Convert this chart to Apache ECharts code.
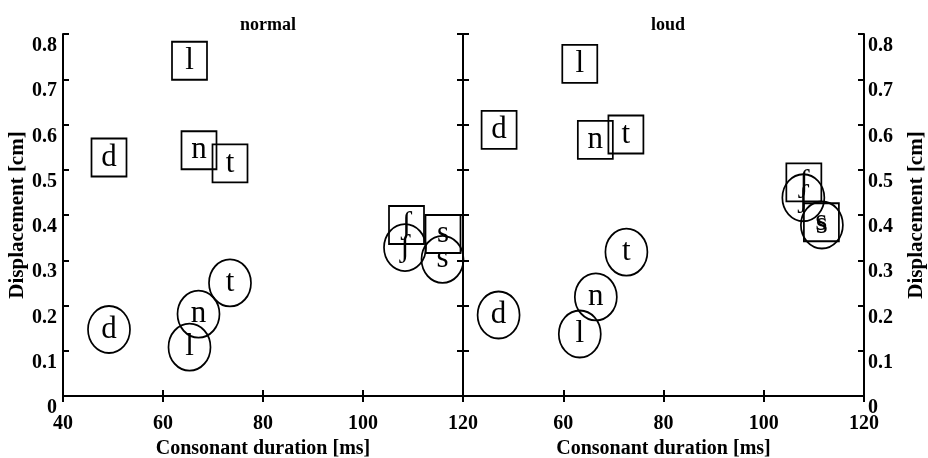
<!DOCTYPE html>
<html>
<head>
<meta charset="utf-8">
<script src="https://cdn.jsdelivr.net/npm/echarts@6/dist/echarts.min.js"></script>
<style>
html,body{margin:0;padding:0;background:#fff;}
#chart{width:928px;height:458px;}
</style>
</head>
<body>
<div id="chart"></div>
<script>
// ---- data ----
const panelTitles = ['normal', 'loud'];
const phonemes = ['d', 'l', 'n', 't', 'ʃ', 's'];
const normalSquareX = [49.2, 65.3, 67.2, 73.4, 108.7, 116.0];
const normalSquareY = [0.527, 0.741, 0.543, 0.514, 0.378, 0.358];
const normalCircleX = [49.2, 65.3, 67.1, 73.4, 108.4, 115.9];
const normalCircleY = [0.147, 0.108, 0.181, 0.250, 0.328, 0.302];
const loudSquareX = [47.2, 63.3, 66.4, 72.5, 108.0, 111.5];
const loudSquareY = [0.588, 0.734, 0.566, 0.578, 0.472, 0.384];
const loudCircleX = [47.1, 63.3, 66.5, 72.6, 107.9, 111.6];
const loudCircleY = [0.179, 0.137, 0.219, 0.318, 0.438, 0.378];
const xMin = 40, xMax = 120, xStep = 20;
const yMin = 0, yMax = 0.8, yStep = 0.1;
const xName = 'Consonant duration [ms]';
const yName = 'Displacement [cm]';

// ---- build ----
const FONT = "'Liberation Serif', 'DejaVu Serif', serif";
const ELLIPSE = 'path://M0,50 A50,50 0 1,1 100,50 A50,50 0 1,1 0,50 Z';

function pts(xs, ys) { return xs.map((x, i) => [x, ys[i], phonemes[i]]); }

const axisLine = { show: true, lineStyle: { color: '#000', width: 2 } };
const axisTick = { show: true, inside: true, length: 6, lineStyle: { color: '#000', width: 2 } };

function xAxes(gi, hideMinLabel) {
  return [
    {
      gridIndex: gi, type: 'value', position: 'bottom', min: xMin, max: xMax, interval: xStep,
      axisLine, axisTick, splitLine: { show: false },
      axisLabel: {
        show: true, margin: 18, color: '#000', fontFamily: FONT, fontWeight: 'bold', fontSize: 20,
        showMinLabel: !hideMinLabel
      },
      name: xName, nameLocation: 'middle', nameGap: 43,
      nameTextStyle: { color: '#000', fontFamily: FONT, fontWeight: 'bold', fontSize: 20 }
    },
    {
      gridIndex: gi, type: 'value', position: 'top', min: xMin, max: xMax, interval: xStep,
      axisLine, axisTick, splitLine: { show: false }, axisLabel: { show: false }
    }
  ];
}

function yAxes(gi, labelSide) {
  const labelled = {
    gridIndex: gi, type: 'value', position: labelSide, min: yMin, max: yMax, interval: yStep,
    axisLine, axisTick, splitLine: { show: false },
    axisLabel: {
      show: true, margin: labelSide === 'left' ? 6 : 4, color: '#000', fontFamily: FONT,
      fontWeight: 'bold', fontSize: 20, verticalAlign: 'top', padding: [2, 0, 0, 0],
      formatter: v => (Math.abs(v) < 1e-9 ? '0' : v.toFixed(1))
    },
    name: yName, nameLocation: 'middle', nameRotate: 90,
    nameGap: labelSide === 'left' ? 27 : 42,
    nameTextStyle: { color: '#000', fontFamily: FONT, fontWeight: 'bold', fontSize: 21 }
  };
  const plain = {
    gridIndex: gi, type: 'value', position: labelSide === 'left' ? 'right' : 'left',
    min: yMin, max: yMax, interval: yStep,
    axisLine, axisTick, splitLine: { show: false }, axisLabel: { show: false }
  };
  return [labelled, plain];
}

function markerSeries(data, xi, yi, kind) {
  return {
    type: 'scatter', xAxisIndex: xi, yAxisIndex: yi, data,
    symbol: kind === 'square' ? 'rect' : ELLIPSE,
    symbolSize: kind === 'square' ? [35, 38] : [42, 47],
    symbolKeepAspect: false,
    clip: false,
    itemStyle: { color: 'rgba(0,0,0,0)', borderColor: '#000', borderWidth: 1.8, opacity: 1 },
    label: {
      show: true, position: 'inside', formatter: p => p.data[2],
      color: '#000', fontFamily: FONT, fontSize: 31, fontWeight: 'normal'
    },
    emphasis: { disabled: true },
    silent: true
  };
}

const option = {
  animation: false,
  backgroundColor: '#fff',
  title: [
    { text: panelTitles[0], left: 263, top: 11, textAlign: 'center',
      textStyle: { color: '#000', fontFamily: FONT, fontWeight: 'bold', fontSize: 18 } },
    { text: panelTitles[1], left: 663, top: 11, textAlign: 'center',
      textStyle: { color: '#000', fontFamily: FONT, fontWeight: 'bold', fontSize: 18 } }
  ],
  grid: [
    { left: 63, top: 34, width: 400, height: 362, containLabel: false, outerBoundsMode: 'none' },
    { left: 463, top: 34, width: 401, height: 362, containLabel: false, outerBoundsMode: 'none' }
  ],
  xAxis: [...xAxes(0, false), ...xAxes(1, true)],
  yAxis: [...yAxes(0, 'left'), ...yAxes(1, 'right')],
  series: [
    markerSeries(pts(normalSquareX, normalSquareY), 0, 0, 'square'),
    markerSeries(pts(normalCircleX, normalCircleY), 0, 0, 'circle'),
    markerSeries(pts(loudSquareX, loudSquareY), 2, 2, 'square'),
    markerSeries(pts(loudCircleX, loudCircleY), 2, 2, 'circle')
  ]
};

const chart = echarts.init(document.getElementById('chart'), null, { renderer: 'canvas' });
chart.setOption(option);
</script>
</body>
</html>
